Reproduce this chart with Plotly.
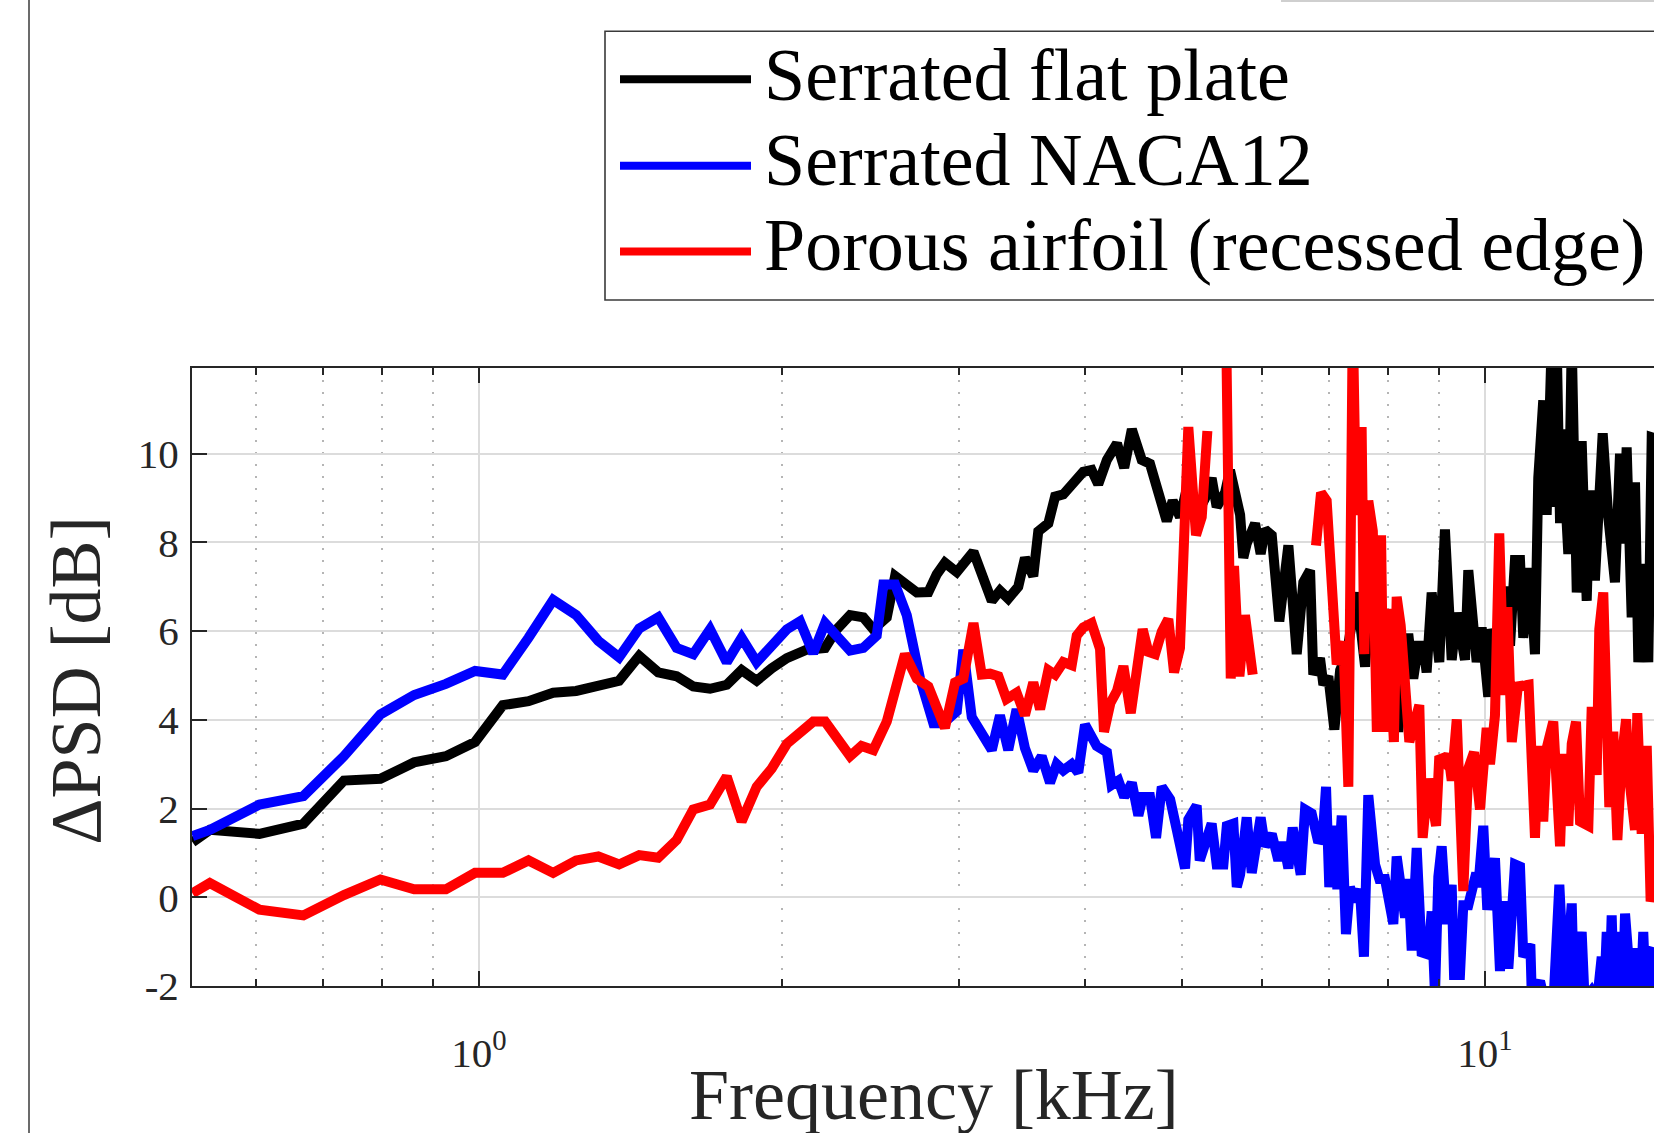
import plotly.graph_objects as go

# ---------------- data (frequency in kHz, delta PSD in dB) ----------------
series_names = ["Serrated flat plate", "Serrated NACA12", "Porous airfoil (recessed edge)"]
series_colors = ["#000000", "#0000ff", "#ff0000"]

flat_plate = [
    (0.519, 1.24), (0.540, 1.52), (0.605, 1.43), (0.669, 1.66), (0.734, 2.63), (0.798, 2.67),
    (0.862, 3.04), (0.927, 3.18), (0.991, 3.50), (1.056, 4.33), (1.120, 4.42), (1.185, 4.61),
    (1.249, 4.65), (1.314, 4.75), (1.378, 4.88), (1.443, 5.44), (1.507, 5.07), (1.572, 4.98),
    (1.633, 4.75), (1.697, 4.70), (1.763, 4.79), (1.824, 5.12), (1.888, 4.88), (1.954, 5.16),
    (2.023, 5.39), (2.117, 5.58), (2.208, 5.62), (2.268, 6.04), (2.338, 6.36), (2.410, 6.31),
    (2.466, 6.04), (2.543, 6.31), (2.592, 7.24), (2.724, 6.87), (2.797, 6.88), (2.851, 7.28),
    (2.905, 7.54), (2.985, 7.33), (3.101, 7.79), (3.234, 6.68), (3.295, 6.91), (3.358, 6.73),
    (3.436, 7.00), (3.489, 7.65), (3.556, 7.24), (3.597, 8.25), (3.681, 8.43), (3.738, 9.03),
    (3.809, 9.08), (3.987, 9.59), (4.064, 9.63), (4.126, 9.31), (4.209, 9.86), (4.307, 10.23),
    (4.379, 9.68), (4.456, 10.55), (4.558, 9.86), (4.645, 9.77), (4.735, 9.17), (4.826, 8.48),
    (4.893, 8.94), (4.975, 8.57), (5.071, 9.35), (5.169, 8.62), (5.269, 8.99), (5.349, 9.45),
    (5.411, 8.80), (5.516, 9.12), (5.579, 9.63), (5.709, 8.62), (5.751, 7.65), (5.796, 7.97),
    (5.908, 8.43), (5.984, 7.74), (6.044, 8.29), (6.138, 8.16), (6.245, 6.22), (6.376, 7.93),
    (6.499, 5.48), (6.598, 7.10), (6.701, 7.37), (6.750, 5.02), (6.855, 5.39), (6.908, 4.79),
    (6.987, 4.98), (7.084, 3.78), (7.178, 5.12), (7.288, 5.48), (7.457, 6.87), (7.600, 5.20),
    (7.724, 7.40), (7.945, 4.00), (8.042, 5.76), (8.199, 3.73), (8.389, 5.94), (8.486, 4.93),
    (8.584, 5.67), (8.682, 5.67), (8.749, 5.07), (8.851, 6.87), (9.007, 5.30), (9.124, 8.29),
    (9.266, 5.35), (9.374, 6.41), (9.552, 5.35), (9.625, 7.37), (9.811, 5.30), (9.924, 6.08),
    (10.075, 4.52), (10.153, 6.04), (10.30, 5.60), (10.469, 7.00), (10.590, 5.67), (10.710, 7.60),
    (10.834, 7.60), (10.916, 5.85), (11.084, 7.42), (11.212, 5.48), (11.297, 9.45), (11.426, 11.20),
    (11.516, 8.62), (11.649, 12.5), (11.738, 8.80), (11.784, 12.5), (11.874, 8.43), (11.920, 10.55),
    (12.101, 7.74), (12.196, 12.5), (12.337, 6.87), (12.477, 10.28), (12.621, 6.68), (12.717, 9.17),
    (12.861, 7.14), (13.092, 10.46), (13.261, 8.57), (13.465, 7.10), (13.621, 10.00), (13.722, 7.97),
    (13.830, 10.14), (13.990, 6.31), (14.097, 9.35), (14.204, 5.30), (14.366, 7.51), (14.532, 5.30),
    (14.646, 10.37), (15.0, 10.30),
]

naca12 = [
    (0.519, 1.38), (0.540, 1.52), (0.605, 2.09), (0.669, 2.28), (0.734, 3.18), (0.798, 4.12),
    (0.862, 4.56), (0.927, 4.81), (0.991, 5.10), (1.056, 5.02), (1.120, 5.85), (1.185, 6.70),
    (1.249, 6.36), (1.314, 5.78), (1.378, 5.41), (1.443, 6.06), (1.507, 6.31), (1.572, 5.62),
    (1.633, 5.48), (1.697, 6.04), (1.763, 5.30), (1.824, 5.85), (1.888, 5.30), (1.954, 5.67),
    (2.023, 6.04), (2.085, 6.22), (2.149, 5.50), (2.208, 6.18), (2.268, 5.85), (2.338, 5.56),
    (2.410, 5.62), (2.485, 5.90), (2.523, 7.05), (2.592, 7.05), (2.662, 6.36), (2.744, 4.93),
    (2.829, 3.92), (2.894, 3.92), (2.985, 4.19), (3.030, 5.58), (3.089, 4.06), (3.148, 3.73),
    (3.234, 3.32), (3.295, 4.10), (3.358, 3.32), (3.423, 4.24), (3.489, 3.36), (3.556, 2.86),
    (3.625, 3.18), (3.695, 2.58), (3.752, 3.00), (3.809, 2.86), (3.883, 3.00), (3.942, 2.81),
    (4.003, 3.89), (4.111, 3.41), (4.209, 3.27), (4.254, 2.53), (4.321, 2.63), (4.379, 2.26),
    (4.456, 2.58), (4.523, 1.84), (4.568, 2.26), (4.645, 2.26), (4.710, 1.34), (4.772, 2.49),
    (4.864, 2.21), (4.939, 1.52), (5.033, 0.65), (5.071, 1.75), (5.169, 2.07), (5.205, 0.83),
    (5.349, 1.66), (5.411, 0.74), (5.495, 0.74), (5.538, 1.61), (5.622, 1.66), (5.666, 0.23),
    (5.709, 0.51), (5.796, 1.80), (5.863, 0.55), (5.984, 1.80), (6.044, 1.15), (6.138, 1.43),
    (6.231, 0.83), (6.303, 1.24), (6.376, 0.65), (6.439, 1.57), (6.559, 0.51), (6.624, 1.98),
    (6.725, 1.89), (6.828, 1.24), (6.897, 1.38), (6.950, 2.49), (7.002, 0.23), (7.066, 1.61),
    (7.132, 0.18), (7.204, 1.84), (7.274, -0.83), (7.341, 0.23), (7.426, -0.09), (7.510, 0.18),
    (7.580, -1.34), (7.656, 2.30), (7.775, 0.74), (7.852, 0.41), (7.954, 0.41), (8.107, -0.60),
    (8.170, 0.92), (8.328, -0.46), (8.389, 0.41), (8.456, -1.20), (8.553, 1.11), (8.650, -1.24),
    (8.783, -1.29), (8.851, -0.32), (8.919, -2.20), (8.987, 0.46), (9.056, 1.15), (9.161, -0.60),
    (9.266, 0.28), (9.316, -1.75), (9.443, -1.75), (9.515, -0.18), (9.625, -0.18), (9.802, 0.55),
    (9.847, 0.23), (9.961, 1.61), (10.053, -0.28), (10.231, 0.88), (10.349, -1.66), (10.469, -0.09),
    (10.549, -1.61), (10.710, 0.74), (10.834, 0.69), (10.916, -1.34), (11.094, -1.06), (11.13, -2.20),
    (11.343, -1.89), (11.45, -2.30), (11.70, -2.30), (11.855, 0.28), (12.009, -2.30), (12.196, -0.14),
    (12.260, -2.20), (12.337, -1.70), (12.477, -0.78), (12.560, -2.30), (12.621, -2.20),
    (12.767, -2.10), (12.93, -2.30), (13.062, -1.34), (13.130, -2.30), (13.213, -0.78),
    (13.290, -2.20), (13.364, -0.41), (13.440, -2.30), (13.518, -0.97), (13.570, -2.20),
    (13.621, -0.78), (13.700, -2.30), (13.779, -0.37), (13.884, -1.34), (13.960, -2.30),
    (14.045, -1.15), (14.120, -2.30), (14.204, -1.43), (14.280, -2.20), (14.366, -0.78),
    (14.450, -2.30), (14.532, -1.52), (14.620, -2.20), (14.70, -1.24), (15.0, -1.30),
]

porous_recessed = [
    (0.519, 0.09), (0.540, 0.32), (0.605, -0.28), (0.669, -0.41), (0.734, 0.05), (0.798, 0.40),
    (0.862, 0.18), (0.927, 0.18), (0.991, 0.55), (1.056, 0.55), (1.120, 0.83), (1.185, 0.55),
    (1.249, 0.83), (1.314, 0.92), (1.378, 0.74), (1.443, 0.95), (1.507, 0.89), (1.572, 1.29),
    (1.633, 1.98), (1.697, 2.09), (1.763, 2.72), (1.824, 1.71), (1.888, 2.49), (1.954, 2.90),
    (2.023, 3.46), (2.085, 3.73), (2.149, 3.96), (2.208, 3.96), (2.268, 3.59), (2.338, 3.18),
    (2.400, 3.41), (2.466, 3.32), (2.543, 3.96), (2.651, 5.48), (2.724, 4.93), (2.797, 4.75),
    (2.905, 3.82), (2.973, 4.84), (3.030, 4.93), (3.101, 6.18), (3.160, 5.02), (3.221, 5.04),
    (3.283, 4.98), (3.345, 4.47), (3.423, 4.61), (3.489, 4.10), (3.556, 4.84), (3.612, 4.24),
    (3.681, 5.12), (3.738, 5.02), (3.809, 5.30), (3.883, 5.23), (3.928, 5.90), (3.987, 6.08),
    (4.064, 6.18), (4.143, 5.60), (4.181, 3.73), (4.243, 4.38), (4.307, 4.65), (4.371, 5.21),
    (4.445, 4.15), (4.506, 5.21), (4.568, 6.04), (4.628, 5.53), (4.699, 5.48), (4.772, 5.99),
    (4.844, 6.27), (4.908, 5.07), (4.975, 5.62), (5.071, 10.60), (5.161, 8.16), (5.229, 8.57),
    (5.297, 10.51), (None, None),
    (5.528, 13.0), (5.588, 4.93), (5.630, 7.47), (5.700, 4.98), (5.773, 6.36), (5.876, 5.02),
    (None, None),
    (6.792, 7.93), (6.871, 9.12), (6.960, 8.94), (7.122, 5.25), (7.232, 5.76), (7.314, 2.49),
    (7.389, 13.0), (7.446, 8.62), (7.540, 10.60), (7.586, 5.48), (7.656, 8.94), (7.736, 8.25),
    (7.807, 3.73), (7.883, 8.16), (7.930, 3.73), (7.996, 6.50), (8.118, 3.50), (8.170, 6.77),
    (8.245, 6.13), (8.410, 3.50), (8.604, 4.33), (8.670, 1.34), (8.783, 2.67), (8.940, 1.61),
    (9.007, 3.18), (9.124, 3.04), (9.195, 3.23), (9.266, 2.63), (9.374, 4.01), (9.515, 0.14),
    (9.625, 2.90), (9.752, 3.27), (9.886, 1.98), (10.039, 3.82), (10.116, 3.00), (10.231, 4.10),
    (10.332, 8.20), (10.445, 4.56), (10.524, 6.54), (10.632, 3.50), (10.792, 4.84), (10.834, 4.75),
    (11.050, 4.79), (11.212, 1.34), (11.297, 3.41), (11.426, 1.71), (11.516, 3.36), (11.691, 3.96),
    (11.874, 1.15), (11.963, 3.23), (12.101, 1.61), (12.196, 3.46), (12.316, 3.96), (12.430, 1.71),
    (12.669, 1.61), (12.767, 4.29), (12.913, 2.76), (12.990, 6.04), (13.109, 6.87), (13.191, 4.29),
    (13.292, 2.03), (13.414, 3.73), (13.539, 1.29), (13.670, 3.09), (13.811, 4.01), (13.936, 2.53),
    (14.097, 1.52), (14.171, 4.15), (14.314, 1.43), (14.480, 3.41), (14.610, -0.09), (14.720, 0.14),
    (15.0, 0.30),
]

ytick_vals = [-2, 0, 2, 4, 6, 8, 10]
ytick_text = ["-2", "0", "2", "4", "6", "8", "10"]
xtick_vals = [1, 10]
xtick_text = ["10<sup>0</sup>", "10<sup>1</sup>"]
xminor_vals = [0.6, 0.7, 0.8, 0.9, 2, 3, 4, 5, 6, 7, 8, 9]
x_title = "Frequency [kHz]"
y_title = "ΔPSD [dB]"

# ---------------- layout geometry (pixels) ----------------
W, H = 1654, 1133
ML, MR, MT, MB = 192, 0, 368, 146.5
PW = W - ML - MR
PH = H - MT - MB


def px(xp):
    return (xp - ML) / PW


def py(yp):
    return (H - MB - yp) / PH


FONT = "Liberation Serif, Times New Roman, serif"
AX = "#262626"
LW = 10

fig = go.Figure()
all_series = [flat_plate, naca12, porous_recessed]
for name, color, pts in zip(series_names, series_colors, all_series):
    fx = [p[0] for p in pts]
    fy = [p[1] for p in pts]
    fig.add_trace(go.Scatter(x=fx, y=fy, mode="lines", name=name,
                             line=dict(color=color, width=LW),
                             connectgaps=False, showlegend=False))

fig.update_layout(
    width=W, height=H,
    margin=dict(l=ML, r=MR, t=MT, b=MB, pad=0),
    paper_bgcolor="white", plot_bgcolor="white",
    font=dict(family=FONT, color=AX),
    showlegend=False,
)

fig.update_xaxes(
    type="log", range=[-0.2853, 1.1680],
    showline=True, linecolor=AX, linewidth=2, mirror="ticks",
    ticks="inside", ticklen=15, tickwidth=2, tickcolor=AX,
    tickmode="array", tickvals=xtick_vals, ticktext=xtick_text,
    tickfont=dict(family=FONT, size=41, color=AX),
    ticklabelstandoff=30,
    showgrid=True, gridcolor="#dcdcdc", gridwidth=1.5,
    zeroline=False,
    minor=dict(tickmode="array", tickvals=xminor_vals, ticks="inside", ticklen=7,
               tickwidth=1.5, tickcolor=AX, showgrid=True, gridcolor="#b5b5b5",
               griddash="2px,10px", gridwidth=1.8),
)
fig.update_yaxes(
    range=[-2, 11.93],
    showline=True, linecolor=AX, linewidth=2, mirror=False,
    ticks="inside", ticklen=15, tickwidth=2, tickcolor=AX,
    tickmode="array", tickvals=ytick_vals, ticktext=ytick_text,
    tickfont=dict(family=FONT, size=41, color=AX),
    ticklabelstandoff=3,
    showgrid=True, gridcolor="#dcdcdc", gridwidth=1.5,
    zeroline=False,
)

shapes = []
# frame line at the far left and faint line at the top right of the picture
shapes.append(dict(type="line", xref="paper", yref="paper", x0=px(29), x1=px(29),
                   y0=py(H + 20), y1=py(-20), line=dict(color="#3a3a3a", width=1.5)))
shapes.append(dict(type="line", xref="paper", yref="paper", x0=px(1281), x1=px(W + 40),
                   y0=py(0.8), y1=py(0.8), line=dict(color="#cfcfcf", width=2)))
# legend box
shapes.append(dict(type="rect", xref="paper", yref="paper", x0=px(605), x1=px(W + 60),
                   y0=py(300), y1=py(31), line=dict(color="#3a3a3a", width=1.6),
                   fillcolor="white", layer="above"))
legend_rows = [79, 165.5, 251.5]
legend_text_mid = [75, 160, 245]
annotations = []
for name, color, yl, yt in zip(series_names, series_colors, legend_rows, legend_text_mid):
    shapes.append(dict(type="line", xref="paper", yref="paper", x0=px(620), x1=px(751),
                       y0=py(yl), y1=py(yl), line=dict(color=color, width=8)))
    annotations.append(dict(text=name, xref="paper", yref="paper", x=px(762), y=py(yt),
                            xanchor="left", yanchor="middle", showarrow=False,
                            font=dict(family=FONT, size=74, color="#000000")))

annotations.append(dict(text=x_title, xref="paper", yref="paper", x=px(933.5), y=py(1096),
                        xanchor="center", yanchor="middle", showarrow=False,
                        font=dict(family=FONT, size=72, color=AX)))
annotations.append(dict(text=y_title, xref="paper", yref="paper", x=px(76), y=py(681),
                        xanchor="center", yanchor="middle", showarrow=False, textangle=-90,
                        font=dict(family=FONT, size=72, color=AX)))

fig.update_layout(shapes=shapes, annotations=annotations)

fig.write_html("out.html",
               config={"displayModeBar": False},
               post_script="document.body.style.margin='0';document.body.style.overflow='hidden';")
